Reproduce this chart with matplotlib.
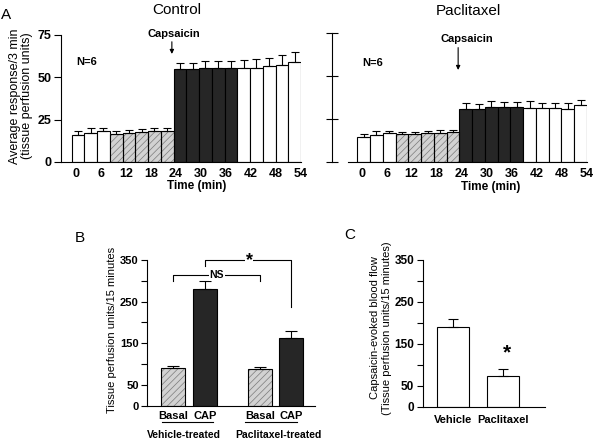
import numpy as np
import matplotlib
matplotlib.use("Agg")
import matplotlib.pyplot as plt

plt.rcParams['font.family'] = ['Liberation Sans', 'DejaVu Sans']
plt.rcParams['hatch.linewidth'] = 0.5

# ---------------- data ----------------
times = [0, 3, 6, 9, 12, 15, 18, 21, 24, 27, 30, 33, 36, 39, 42, 45, 48, 51]
phase = ['pre', 'pre', 'pre', 'basal', 'basal', 'basal', 'basal', 'basal',
         'cap', 'cap', 'cap', 'cap', 'cap', 'post', 'post', 'post', 'post', 'post']
control_mean = [16.2, 17.4, 18.3, 16.4, 17.2, 18.0, 18.3, 18.3,
                55.2, 55.2, 55.4, 55.4, 55.4, 55.8, 55.6, 56.6, 57.0, 58.8]
control_err = [2.0, 2.4, 2.0, 1.8, 1.6, 1.6, 2.0, 2.0,
               3.5, 3.5, 4.0, 4.0, 4.0, 4.7, 5.0, 5.1, 6.1, 6.3]
pacli_mean = [14.6, 15.6, 16.6, 16.0, 16.0, 16.6, 16.8, 17.2,
              30.8, 30.6, 32.2, 32.0, 32.0, 31.6, 31.4, 31.2, 30.8, 33.1]
pacli_err = [1.4, 2.3, 1.6, 1.6, 1.6, 1.6, 1.6, 1.6,
             3.3, 3.3, 3.1, 3.1, 3.1, 3.7, 3.1, 3.1, 3.3, 2.7]
time_labels = ['0', '6', '12', '18', '24', '30', '36', '42', '48', '54']

b_labels = ['Basal', 'CAP', 'Basal', 'CAP']
b_groups = ['Vehicle-treated', 'Paclitaxel-treated']
b_mean = [90, 281, 87, 163]
b_err = [4, 19, 6.5, 16]
b_kind = ['basal', 'cap', 'basal', 'cap']

c_labels = ['Vehicle', 'Paclitaxel']
c_mean = [190, 74]
c_err = [19, 17]

# ---------------- styling ----------------
DARK = '#262626'
HATCH_FACE = '#d2d2d2'
HATCH_COL = '#7a7a7a'
LW = 0.8

W, H = 600, 443
fig = plt.figure(figsize=(W / 100, H / 100), dpi=100)


def rect(l, t, r, b):
    return [l / W, 1 - b / H, (r - l) / W, (b - t) / H]


def ftext(x, y, s, **kw):
    fig.text(x / W, 1 - y / H, s, **kw)


def draw_bars(ax, x, heights, kinds, width):
    for xi, h, k in zip(x, heights, kinds):
        if k == 'basal':
            ax.bar(xi, h, width, color=HATCH_FACE, edgecolor=HATCH_COL,
                   hatch='/////', linewidth=0, zorder=2)
            ax.bar(xi, h, width, fill=False, edgecolor='k', linewidth=LW, zorder=3)
        elif k == 'cap':
            ax.bar(xi, h, width, color=DARK, edgecolor='k', linewidth=LW, zorder=2)
        else:
            ax.bar(xi, h, width, color='white', edgecolor='k', linewidth=LW, zorder=2)


def panel_a(ax, mean, err, left):
    draw_bars(ax, times, mean, phase, 3.0)
    ax.errorbar(times, mean, yerr=[np.zeros(len(err)), err], fmt='none',
                ecolor='k', elinewidth=LW, capsize=2.6, capthick=LW, zorder=4)
    ax.set_ylim(0, 75)
    ax.set_yticks([0, 25, 50, 75])
    ax.set_xticks(np.linspace(-0.5, 52.4, 10))
    ax.set_xticklabels(time_labels, fontsize=9, fontweight='bold')
    ax.tick_params(axis='x', length=0, pad=4)
    for s in ['top', 'right']:
        ax.spines[s].set_visible(False)
    for s in ['left', 'bottom']:
        ax.spines[s].set_linewidth(LW)
    if left:
        ax.set_xlim(-4.0, 52.5)
        ax.tick_params(axis='y', direction='out', length=5, width=LW, pad=2)
        ax.set_yticklabels(['0', '25', '50', '75'], fontsize=9, fontweight='bold')
    else:
        ax.set_xlim(-3.7, 52.5)
        ax.spines['left'].set_position(('outward', 11.5))
        ax.tick_params(axis='y', direction='inout', length=8, width=LW)
        ax.set_yticklabels([])


# ---------------- Panel A ----------------
axL = fig.add_axes(rect(61, 35, 301, 162))
panel_a(axL, control_mean, control_err, True)
axR = fig.add_axes(rect(348, 33, 587, 162))
panel_a(axR, pacli_mean, pacli_err, False)

axL.text(22.5, 75.5, 'Capsaicin', ha='center', va='center', fontsize=8,
         fontweight='bold', clip_on=False)
axL.annotate('', xy=(22.1, 63.8), xytext=(22.1, 71.0),
             arrowprops=dict(arrowstyle='-|>', color='k', lw=0.8,
                             mutation_scale=6, shrinkA=0, shrinkB=0))
axL.text(2.1, 59, 'N=6', ha='center', va='center', fontsize=8, fontweight='bold')

axR.text(24.3, 71.5, 'Capsaicin', ha='center', va='center', fontsize=8,
         fontweight='bold', clip_on=False)
axR.annotate('', xy=(22.2, 53.5), xytext=(22.2, 66.5),
             arrowprops=dict(arrowstyle='-|>', color='k', lw=0.8,
                             mutation_scale=6, shrinkA=0, shrinkB=0))
axR.text(2.1, 57.6, 'N=6', ha='center', va='center', fontsize=8, fontweight='bold')

ftext(6.5, 15, 'A', ha='center', va='center', fontsize=11)
ftext(177, 10, 'Control', ha='center', va='center', fontsize=11)
ftext(468, 11, 'Paclitaxel', ha='center', va='center', fontsize=11)
ftext(197, 186, 'Time (min)', ha='center', va='center', fontsize=8.5, fontweight='bold')
ftext(491, 187, 'Time (min)', ha='center', va='center', fontsize=8.5, fontweight='bold')
ftext(21, 96, 'Average response/3 min\n(tissue perfusion units)', ha='center',
      va='center', rotation=90, fontsize=9, linespacing=1.0)

# ---------------- Panel B ----------------
axB = fig.add_axes(rect(147, 260, 315, 405.5))
bx = [0, 1, 2.72, 3.69]
draw_bars(axB, bx, b_mean, b_kind, 0.75)
axB.errorbar(bx, b_mean, yerr=[np.zeros(4), b_err], fmt='none', ecolor='k',
             elinewidth=LW, capsize=4, capthick=LW, zorder=4)
axB.set_xlim(-0.81, 4.44)
axB.set_ylim(0, 350)
axB.set_yticks([0, 50, 100, 150, 200, 250, 300, 350])
axB.set_yticklabels(['0', '50', '', '150', '', '250', '', '350'],
                    fontsize=8, fontweight='bold')
axB.tick_params(axis='y', direction='out', length=4, width=LW, pad=2)
axB.set_xticks([])
for s in ['top', 'right']:
    axB.spines[s].set_visible(False)
for s in ['left', 'bottom']:
    axB.spines[s].set_linewidth(LW)

# NS bracket
axB.plot([bx[0], bx[0], bx[2], bx[2]], [300, 314, 314, 300], color='k', lw=LW,
         clip_on=False, zorder=5)
axB.text(1.37, 314, 'NS', ha='center', va='center', fontsize=7.5, fontweight='bold',
         bbox=dict(facecolor='white', edgecolor='none', pad=0.5), zorder=6)
# star bracket
axB.plot([bx[1], bx[1], bx[3], bx[3]], [336, 351, 351, 237], color='k', lw=LW,
         clip_on=False, zorder=5)
axB.text(2.38, 348, '*', ha='center', va='center', fontsize=13, fontweight='bold',
         bbox=dict(facecolor='white', edgecolor='none', pad=0.5), zorder=6,
         clip_on=False)

for xi, lab in zip(bx, b_labels):
    axB.text(xi, -25, lab, ha='center', va='center', fontsize=8, fontweight='bold',
             clip_on=False)
for (l, r) in [(162, 213), (245, 297)]:
    fig.add_artist(plt.Line2D([l / W, r / W], [1 - 422.3 / H, 1 - 422.3 / H],
                              color='k', lw=LW))
ftext(184, 435, b_groups[0], ha='center', va='center', fontsize=7.5, fontweight='bold')
ftext(278, 435, b_groups[1], ha='center', va='center', fontsize=7.5, fontweight='bold')
ftext(80, 238, 'B', ha='center', va='center', fontsize=11)
ftext(112, 330, 'Tissue perfusion units/15 minutes', ha='center', va='center',
      rotation=90, fontsize=8)

# ---------------- Panel C ----------------
axC = fig.add_axes(rect(422.7, 260, 545, 406.7))
cx = [0, 1]
axC.bar(cx, c_mean, 0.64, color='white', edgecolor='k', linewidth=LW, zorder=2)
axC.errorbar(cx, c_mean, yerr=[np.zeros(2), c_err], fmt='none', ecolor='k',
             elinewidth=LW, capsize=3.6, capthick=LW, zorder=4)
axC.set_xlim(-0.61, 1.84)
axC.set_ylim(0, 350)
axC.set_yticks([0, 50, 100, 150, 200, 250, 300, 350])
axC.set_yticklabels(['0', '50', '', '150', '', '250', '', '350'],
                    fontsize=8.5, fontweight='bold')
axC.tick_params(axis='y', direction='out', length=4, width=LW, pad=2)
axC.set_xticks(cx)
axC.set_xticklabels(c_labels, fontsize=8, fontweight='bold')
axC.tick_params(axis='x', length=0, pad=6)
for s in ['top', 'right']:
    axC.spines[s].set_visible(False)
for s in ['left', 'bottom']:
    axC.spines[s].set_linewidth(LW)
axC.text(1.08, 128, '*', ha='center', va='center', fontsize=15, fontweight='bold')
ftext(350, 235, 'C', ha='center', va='center', fontsize=11)
ftext(381, 328, 'Capsaicin-evoked blood flow\n(Tissue perfusion units/15 minutes)',
      ha='center', va='center', rotation=90, fontsize=8, linespacing=1.15)

fig.savefig('out.png', dpi=100)
